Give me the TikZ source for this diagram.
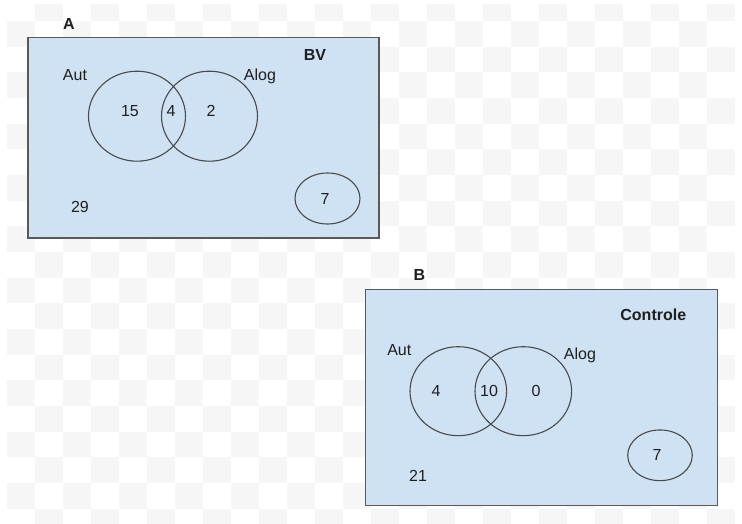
\documentclass[tikz,border=0pt]{standalone}
\usepackage{fontspec}
\setmainfont{Liberation Sans}
\usetikzlibrary{shapes.geometric}
\definecolor{boxfill}{HTML}{CFE2F3}
\definecolor{boxline}{HTML}{595959}
\definecolor{ringline}{HTML}{4A4A4A}
\definecolor{checker}{HTML}{F6F6F6}
\definecolor{ink}{HTML}{1F1F1F}
\begin{document}
\begin{tikzpicture}[x=1pt,y=-1pt,
  panel/.style={draw=boxline,fill=boxfill,line width=1.2pt,inner sep=0pt,anchor=north west},
  ring/.style={draw=ringline,line width=1.1pt,ellipse,inner sep=0pt},
  lbl/.style={text=ink,font=\fontsize{16}{19}\selectfont,inner sep=0pt,text depth=0pt},
  ttl/.style={lbl,font=\bfseries\fontsize{16}{19}\selectfont}]
\useasboundingbox (0,0) rectangle (742,524);
\fill[white] (0,0) rectangle (742,524);
\begin{scope}
\clip (7,5) rectangle (735,524);
\foreach \r in {0,...,20}{
  \pgfmathtruncatemacro\s{mod(\r+1,2)}
  \foreach \c in {0,...,12}{
    \pgfmathsetmacro\xa{7+28*(2*\c+\s)}
    \pgfmathsetmacro\ya{21+25.667*(\r-1)}
    \fill[checker] (\xa,\ya) rectangle ++(28,25.667);
  }
}
\end{scope}

% Panel A
\node[panel,minimum width=351pt,minimum height=200.5pt] (boxA) at (27.3,36.8) {};
\node[ttl] (labA) at (69,24) {A};
\node[ttl] (bv) at (315,55) {BV};
\node[ring,minimum width=97pt,minimum height=90pt] (autA) at (137,116.2) {};
\node[ring,minimum width=96pt,minimum height=90pt] (alogA) at (209.5,116.2) {};
\node[ring,minimum width=65pt,minimum height=51pt] (otherA) at (327.5,198.5) {};
\node[lbl] (autAt) at (75,75) {Aut};
\node[lbl] (alogAt) at (260,75) {Alog};
\node[lbl] (nA1) at (130,111) {15};
\node[lbl] (nA2) at (171,111) {4};
\node[lbl] (nA3) at (211,111) {2};
\node[lbl] (nA4) at (325,199) {7};
\node[lbl] (nA5) at (80,207) {29};

% Panel B
\node[panel,minimum width=351.7pt,minimum height=216pt] (boxB) at (365,289.2) {};
\node[ttl] (labB) at (419.3,275) {B};
\node[ttl] (ctrl) at (653.3,314.3) {Controle};
\node[ring,minimum width=96.6pt,minimum height=89pt] (autB) at (458.3,391.2) {};
\node[ring,minimum width=96.6pt,minimum height=89pt] (alogB) at (523.3,391.2) {};
\node[ring,minimum width=64.6pt,minimum height=50.7pt] (otherB) at (660,455.3) {};
\node[lbl] (autBt) at (399.3,350) {Aut};
\node[lbl] (alogBt) at (580,354) {Alog};
\node[lbl] (nB1) at (436,391) {4};
\node[lbl] (nB2) at (489,391) {10};
\node[lbl] (nB3) at (536,391) {0};
\node[lbl] (nB4) at (657,455) {7};
\node[lbl] (nB5) at (418,476) {21};
\end{tikzpicture}
\end{document}
